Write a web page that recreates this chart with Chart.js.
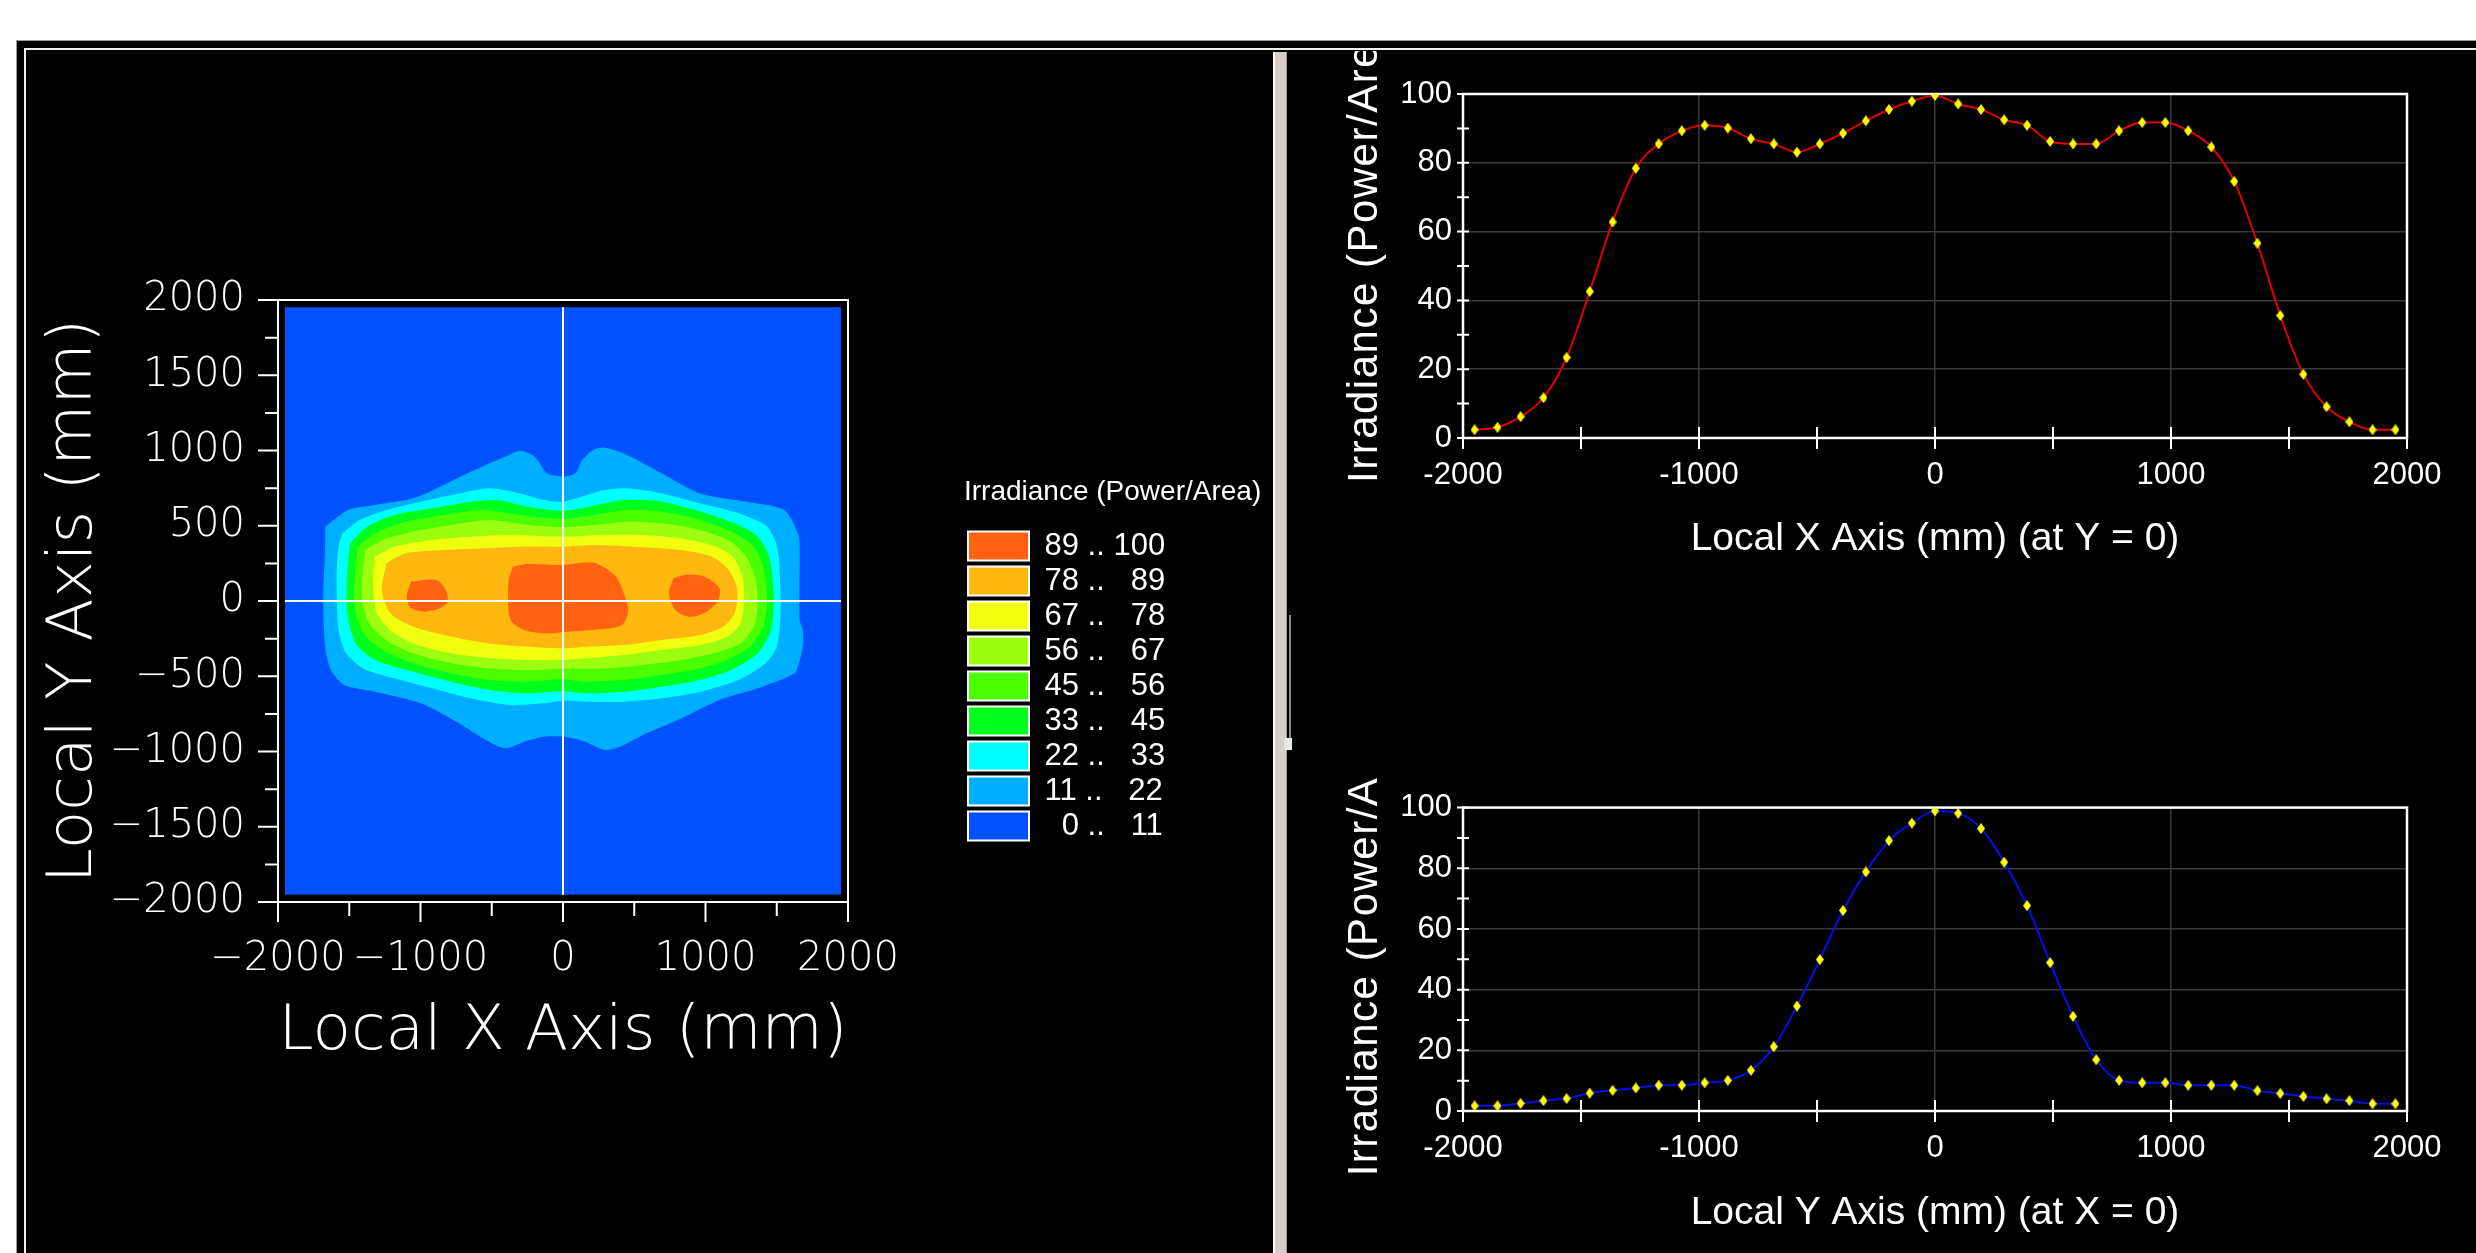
<!DOCTYPE html>
<html>
<head>
<meta charset="utf-8">
<title>Irradiance map and profiles</title>
<script src="https://cdn.jsdelivr.net/npm/chart.js@4.4.1/dist/chart.umd.min.js"></script>
<style>
  html, body { margin: 0; padding: 0; }
  body { width: 2476px; height: 1253px; background: #fff; position: relative; overflow: hidden; }
  #outer { position: absolute; left: 16px; top: 40px; right: 0; bottom: 0; background: #000;
           border-left: 1px solid #9a9a9a; border-top: 1px solid #9a9a9a; }
  #inner { position: absolute; left: 24px; top: 48px; right: 0; bottom: 0;
           border-left: 2px solid #f0f0f0; border-top: 2px solid #f0f0f0; }
  #splitter { position: absolute; left: 1273px; top: 52px; width: 11px; bottom: 0; background: #d4d0c8;
              border-left: 2px solid #fff; border-right: 1px solid #a09c94; }
  #gripLine { position: absolute; left: 1289px; top: 615px; width: 2px; height: 130px; background: #8a8a8a; }
  #grip { position: absolute; left: 1284px; top: 738px; width: 8px; height: 12px; background: #e8e8e8; }
  canvas { position: absolute; }
</style>
</head>
<body>
<div id="outer"></div>
<div id="inner"></div>
<div id="splitter"></div>
<div id="gripLine"></div>
<div id="grip"></div>
<canvas id="contour" width="1300" height="1024" style="left:24px;top:48px"></canvas>
<canvas id="profileX" width="1176" height="549" style="left:1290px;top:51px"></canvas>
<canvas id="profileY" width="1176" height="475" style="left:1290px;top:778px"></canvas>
<script>
Chart.defaults.color = '#ffffff';
Chart.defaults.font.family = "'Liberation Sans', Arial, sans-serif";
Chart.defaults.animation = false;

const HERSHEY = "'DejaVu Sans ExtraLight', 'DejaVu Sans', sans-serif";
const NARROW = "'Liberation Sans Narrow', 'Arial Narrow', 'Liberation Sans', sans-serif";

// ---- profile samples (mm) and irradiance values ----
const samplePos = [-1951, -1854, -1756, -1659, -1561, -1463, -1366, -1268, -1171, -1073,
                   -976, -878, -780, -683, -585, -488, -390, -293, -195, -98,
                   0, 98, 195, 293, 390, 488, 585, 683, 780, 878,
                   976, 1073, 1171, 1268, 1366, 1463, 1561, 1659, 1756, 1854, 1951];

const profileAtY0 = [2.4, 3.1, 6.2, 11.7, 23.4, 42.6, 62.8, 78.4, 85.5, 89.3,
                     90.9, 90.1, 87.0, 85.5, 83.1, 85.5, 88.6, 92.2, 95.5, 97.9,
                     99.6, 97.1, 95.5, 92.5, 90.9, 86.2, 85.5, 85.5, 89.3, 91.7,
                     91.7, 89.3, 84.6, 74.6, 56.6, 35.6, 18.5, 9.1, 4.7, 2.4, 2.4];

const profileAtX0 = [1.7, 1.7, 2.5, 3.4, 4.1, 5.9, 6.8, 7.6, 8.5, 8.5,
                     9.3, 10.1, 13.4, 21.2, 34.6, 49.9, 66.1, 78.8, 89.1, 94.9,
                     98.9, 98.1, 93.1, 82.0, 67.7, 48.9, 31.2, 16.9, 10.1, 9.3,
                     9.3, 8.5, 8.5, 8.5, 6.7, 5.8, 4.8, 4.0, 3.4, 2.4, 2.4];

const profileXTicks = [-2000, -1000, 0, 1000, 2000];
const profileYTicks = [0, 20, 40, 60, 80, 100];
const profileGridX = [-1000, 0, 1000];
const profileGridY = [20, 40, 60, 80];

// ---- contour map ----
const contourXTicks = [-2000, -1000, 0, 1000, 2000];
const contourYTicks = [-2000, -1500, -1000, -500, 0, 500, 1000, 1500, 2000];

const bandLabels = ['89 .. 100', '78 .. \u200789', '67 .. \u200778', '56 .. \u200767', '45 .. \u200756',
                    '33 .. \u200745', '22 .. \u200733', '11 .. \u200722', '\u20070 .. \u200711'];
const bandColors = ['#ff6210', '#ffb810', '#f0ff10', '#9cff10', '#4cff00',
                    '#00ff1c', '#00ffff', '#00aeff', '#0052ff'];

// data field (cell centres) and level outlines in mm
const field = [[-1951, 1951], [1951, 1951], [1951, -1951], [-1951, -1951]];

const contour11 = [[-1669, 494], [-1508, 605], [-1320, 638], [-1052, 682], [-837, 771], [-622, 870],
  [-407, 959], [-300, 999], [-200, 960], [-140, 880], [-110, 845], [9, 826], [90, 850], [130, 930],
  [211, 1003], [291, 1019], [426, 981], [694, 848], [963, 715], [1285, 660], [1554, 605], [1648, 450],
  [1661, 361], [1661, -126], [1683, -193], [1683, -304], [1634, -470], [1581, -503], [1366, -580],
  [1097, -658], [829, -780], [560, -890], [400, -968], [291, -990], [157, -935], [9, -902],
  [-138, -902], [-273, -935], [-407, -979], [-541, -924], [-729, -813], [-998, -680], [-1320, -603],
  [-1535, -558], [-1629, -459], [-1669, -304], [-1683, 7], [-1669, 361]];

const contour22 = [[-1548, 450], [-1428, 538], [-1240, 605], [-998, 660], [-783, 704], [-514, 749],
  [-300, 715], [-138, 671], [-4, 660], [130, 693], [291, 738], [453, 749], [694, 715], [963, 649],
  [1232, 583], [1420, 505], [1487, 405], [1514, 295], [1527, -82], [1500, -304], [1420, -414],
  [1232, -525], [963, -603], [694, -647], [426, -669], [157, -669], [-4, -662], [-138, -680],
  [-380, -691], [-649, -647], [-917, -580], [-1186, -514], [-1401, -448], [-1522, -348],
  [-1575, -193], [-1589, 140], [-1575, 361]];

const contour33 = [[-1495, 383], [-1374, 494], [-1186, 572], [-917, 616], [-649, 660], [-461, 671],
  [-246, 627], [-4, 600], [184, 627], [426, 671], [694, 660], [963, 594], [1232, 505], [1366, 428],
  [1446, 295], [1480, 29], [1460, -193], [1366, -348], [1178, -459], [963, -525], [694, -569],
  [426, -603], [157, -614], [-4, -600], [-246, -614], [-514, -591], [-783, -536], [-1052, -470],
  [-1320, -392], [-1454, -282], [-1514, -82], [-1514, 184]];

const contour45 = [[-1441, 361], [-1320, 450], [-1105, 527], [-837, 572], [-568, 605], [-300, 572],
  [-4, 545], [211, 572], [453, 605], [694, 594], [963, 538], [1205, 450], [1339, 361], [1406, 228],
  [1433, 7], [1406, -170], [1312, -304], [1151, -392], [963, -448], [694, -492], [426, -525],
  [157, -536], [-4, -520], [-246, -536], [-514, -525], [-783, -481], [-1052, -414], [-1266, -326],
  [-1401, -215], [-1463, -38], [-1460, 184]];

const contour56 = [[-1387, 339], [-1266, 405], [-1052, 461], [-783, 505], [-514, 538], [-246, 505],
  [-4, 490], [211, 505], [453, 527], [694, 516], [963, 472], [1178, 394], [1285, 295], [1352, 140],
  [1366, -16], [1339, -170], [1245, -282], [1097, -337], [829, -392], [560, -425], [291, -448],
  [-4, -450], [-246, -459], [-514, -448], [-783, -414], [-1052, -348], [-1240, -260], [-1361, -149],
  [-1410, 7], [-1406, 184]];

const contour67 = [[-1320, 295], [-1186, 361], [-917, 405], [-649, 427], [-380, 438], [-4, 427],
  [291, 438], [560, 438], [829, 416], [1043, 372], [1191, 295], [1259, 162], [1272, 7], [1245, -149],
  [1151, -237], [963, -293], [694, -326], [426, -359], [157, -381], [-4, -392], [-246, -392],
  [-514, -381], [-783, -348], [-1052, -282], [-1213, -193], [-1307, -82], [-1334, 96]];

const contour78 = [[-1240, 250], [-1105, 317], [-837, 339], [-568, 350], [-300, 361], [-4, 361],
  [238, 372], [506, 361], [829, 339], [1043, 295], [1164, 206], [1225, 73], [1205, -82], [1124, -171],
  [963, -226], [694, -259], [426, -293], [157, -304], [-4, -315], [-246, -304], [-514, -282],
  [-783, -237], [-1052, -171], [-1213, -82], [-1272, 73]];

const peak89Left = [[-1065, 129], [-890, 140], [-823, 73], [-810, -4], [-864, -49], [-971, -71],
  [-1065, -49], [-1097, 29]];
const peak89Centre = [[-353, 228], [-246, 246], [-4, 239], [157, 255], [238, 250], [372, 162],
  [426, 51], [458, -60], [412, -160], [211, -193], [23, -204], [-111, -215], [-273, -193],
  [-367, -126], [-385, 7], [-380, 140]];
const peak89Right = [[775, 151], [855, 173], [990, 162], [1097, 84], [1084, -4], [990, -82],
  [882, -104], [788, -60], [743, 51]];

const crossV = [[0, -1951], [0, 1951]];
const crossH = [[-1951, 0], [1951, 0]];

// frame, tick marks and a side title that is allowed to run past the canvas edge
function makeDecor(cfg) {
  return {
    id: 'decor',
    beforeDatasetsDraw(chart) {
      const { ctx, chartArea: a, scales } = chart;
      ctx.save();
      ctx.strokeStyle = cfg.color;
      ctx.lineWidth = cfg.frameWidth;
      ctx.strokeRect(a.left, a.top, a.right - a.left, a.bottom - a.top);
      cfg.marks.forEach(m => {
        const s = scales[m.axis];
        ctx.lineWidth = m.width;
        ctx.beginPath();
        for (let v = s.min; v <= s.max + 1e-9; v += m.step) {
          const major = Math.abs(v % m.majorStep) < 1e-9;
          const out = major ? m.majorOut : m.minorOut;
          const inn = major ? m.majorIn : m.minorIn;
          const p = s.getPixelForValue(v);
          if (m.axis === 'x') { ctx.moveTo(p, a.bottom - inn); ctx.lineTo(p, a.bottom + out); }
          else { ctx.moveTo(a.left - out, p); ctx.lineTo(a.left + inn, p); }
        }
        ctx.stroke();
      });
      if (cfg.sideTitle) {
        const t = cfg.sideTitle;
        ctx.fillStyle = t.color;
        ctx.font = t.font;
        ctx.letterSpacing = t.spacing;
        ctx.textAlign = 'left';
        ctx.textBaseline = 'alphabetic';
        ctx.translate(a.left - t.offset, (a.top + a.bottom) / 2 + t.startBelowCentre);
        ctx.rotate(-Math.PI / 2);
        ctx.fillText(t.text, 0, 0);
      }
      ctx.restore();
    }
  };
}

// the legend clips to its own box; give it room for the title and labels
const legendRoom = {
  id: 'legendRoom',
  afterLayout(chart) {
    const lg = chart.legend;
    if (lg) { lg.width = 330; lg.right = lg.left + 330; }
  }
};

const toXY = pts => pts.map(p => ({ x: p[0], y: p[1] }));

function area(pts, color, tension) {
  const closed = pts.concat([pts[0]]);
  return { data: toXY(closed), backgroundColor: color, borderWidth: 0, pointRadius: 0,
           fill: 'shape', tension: tension };
}

function crossLine(pts) {
  return { data: toXY(pts), borderColor: '#ffffff', borderWidth: 2, pointRadius: 0, fill: false, tension: 0 };
}

const minusFmt = v => (v < 0 ? '\u2212' + Math.abs(v) : String(v));

// bottom layer first
const layers = [
  area(field, bandColors[8], 0),
  area(contour11, bandColors[7], 0.25),
  area(contour22, bandColors[6], 0.25),
  area(contour33, bandColors[5], 0.25),
  area(contour45, bandColors[4], 0.25),
  area(contour56, bandColors[3], 0.25),
  area(contour67, bandColors[2], 0.25),
  area(contour78, bandColors[1], 0.25),
  area(peak89Left, bandColors[0], 0.3),
  area(peak89Centre, bandColors[0], 0.3),
  area(peak89Right, bandColors[0], 0.3),
  crossLine(crossV),
  crossLine(crossH)
];
layers.forEach((ds, i) => { ds.order = layers.length - i; });

const hiddenAxis = (pos, size) => ({
  type: 'linear', position: pos,
  ticks: { display: false },
  grid: { display: false, drawTicks: false },
  border: { display: false },
  afterFit: s => { if (pos === 'top') s.height = size; else s.width = size; }
});

new Chart(document.getElementById('contour'), {
  type: 'line',
  data: { datasets: layers },
  plugins: [legendRoom, makeDecor({
    color: '#ffffff', frameWidth: 2,
    marks: [
      { axis: 'x', step: 500, majorStep: 1000, majorOut: 20, minorOut: 14, majorIn: 0, minorIn: 0, width: 2 },
      { axis: 'y', step: 250, majorStep: 500, majorOut: 20, minorOut: 13, majorIn: 0, minorIn: 0, width: 2 }
    ]
  })],
  options: {
    responsive: false,
    events: [],
    layout: { padding: { left: 0, top: 0, bottom: 0, right: 210 } },
    plugins: {
      tooltip: { enabled: false },
      legend: {
        display: true,
        position: 'right',
        align: 'start',
        fullSize: false,
        maxWidth: 150,
        title: {
          display: true,
          text: 'Irradiance (Power/Area)',
          color: '#ffffff',
          position: 'start',
          font: { family: NARROW, size: 28 },
          padding: { top: 178, bottom: 15 }
        },
        labels: {
          boxWidth: 61,
          boxHeight: 29,
          padding: 4,
          color: '#ffffff',
          font: { family: NARROW, size: 31 },
          generateLabels: () => bandLabels.map((t, i) => ({
            text: t, fillStyle: bandColors[i], strokeStyle: '#ffffff', lineWidth: 2,
            hidden: false, fontColor: '#ffffff'
          }))
        }
      }
    },
    scales: {
      x: {
        type: 'linear', position: 'bottom', min: -2000, max: 2000,
        afterBuildTicks: s => { s.ticks = contourXTicks.map(v => ({ value: v })); },
        afterFit: s => { s.height = 170; },
        grid: { display: false, drawTicks: false },
        border: { display: false },
        ticks: { callback: minusFmt, autoSkip: false, maxRotation: 0, padding: 34, color: '#ffffff',
                 font: { family: HERSHEY, size: 40, weight: 200 } },
        title: { display: true, text: 'Local X Axis (mm)', color: '#ffffff',
                 font: { family: HERSHEY, size: 63, weight: 200 }, padding: { top: 0, bottom: 2 } }
      },
      y: {
        type: 'linear', position: 'left', min: -2000, max: 2000,
        afterBuildTicks: s => { s.ticks = contourYTicks.map(v => ({ value: v })); },
        afterFit: s => { s.width = 254; },
        grid: { display: false, drawTicks: false },
        border: { display: false },
        ticks: { callback: minusFmt, autoSkip: false, padding: 33, color: '#ffffff',
                 font: { family: HERSHEY, size: 40, weight: 200 } },
        title: { display: true, text: 'Local Y Axis (mm)', color: '#ffffff',
                 font: { family: HERSHEY, size: 63, weight: 200 }, padding: { top: 13, bottom: 0 } }
      },
      x2: hiddenAxis('top', 252),
      y2: hiddenAxis('right', 116)
    }
  }
});

// yellow diamond markers
function diamond(w, h, color) {
  const c = document.createElement('canvas');
  c.width = w; c.height = h;
  const g = c.getContext('2d');
  g.fillStyle = color;
  g.beginPath();
  g.moveTo(w / 2, 0); g.lineTo(w, h / 2); g.lineTo(w / 2, h); g.lineTo(0, h / 2);
  g.closePath();
  g.fill();
  return c;
}
const marker = diamond(8, 11, '#ffff00');

function profileChart(id, values, lineColor, xTitle, padTop, xHeight, titleBottom) {
  return new Chart(document.getElementById(id), {
    type: 'line',
    data: {
      datasets: [{
        data: samplePos.map((x, i) => ({ x: x, y: values[i] })),
        borderColor: lineColor,
        borderWidth: 2,
        cubicInterpolationMode: 'monotone',
        pointStyle: marker,
        pointRadius: 4,
        fill: false
      }]
    },
    plugins: [makeDecor({
      color: '#ffffff', frameWidth: 2.5,
      marks: [
        { axis: 'x', step: 500, majorStep: 500, majorOut: 11, minorOut: 11, majorIn: 11, minorIn: 11, width: 2 },
        { axis: 'y', step: 10, majorStep: 10, majorOut: 6, minorOut: 6, majorIn: 6, minorIn: 6, width: 2 }
      ],
      sideTitle: { text: 'Irradiance (Power/Area)', color: '#ffffff', spacing: '1.5px',
                   font: "42px 'Liberation Sans', Arial, sans-serif", offset: 86, startBelowCentre: 217 }
    })],
    options: {
      responsive: false,
      events: [],
      layout: { padding: { top: padTop, right: 59, left: 0, bottom: 0 } },
      plugins: { legend: { display: false }, tooltip: { enabled: false } },
      scales: {
        x: {
          type: 'linear', min: -2000, max: 2000,
          afterBuildTicks: s => { s.ticks = profileXTicks.map(v => ({ value: v })); },
          afterFit: s => { s.height = xHeight; },
          grid: { display: true, drawTicks: false, lineWidth: 1.5,
                  color: c => (c.tick && profileGridX.includes(c.tick.value)) ? '#3a3a3a' : 'rgba(0,0,0,0)' },
          border: { display: false },
          ticks: { callback: v => String(v), autoSkip: false, maxRotation: 0, padding: 19, color: '#ffffff',
                   font: { family: NARROW, size: 31 } },
          title: { display: true, text: xTitle, color: '#ffffff',
                   font: { size: 39 }, padding: { top: 0, bottom: titleBottom } }
        },
        y: {
          type: 'linear', min: 0, max: 100,
          afterBuildTicks: s => { s.ticks = profileYTicks.map(v => ({ value: v })); },
          afterFit: s => { s.width = 173; },
          grid: { display: true, drawTicks: false, lineWidth: 1.5,
                  color: c => (c.tick && profileGridY.includes(c.tick.value)) ? '#3a3a3a' : 'rgba(0,0,0,0)' },
          border: { display: false },
          ticks: { callback: v => String(v), autoSkip: false, padding: 11, color: '#ffffff',
                   font: { family: NARROW, size: 31 } }
        }
      }
    }
  });
}

profileChart('profileX', profileAtY0, '#e00000', 'Local X Axis (mm) (at Y = 0)', 43, 162, 37.6);
profileChart('profileY', profileAtX0, '#0010e8', 'Local Y Axis (mm) (at X = 0)', 17, 142, 16.6);
</script>
</body>
</html>
